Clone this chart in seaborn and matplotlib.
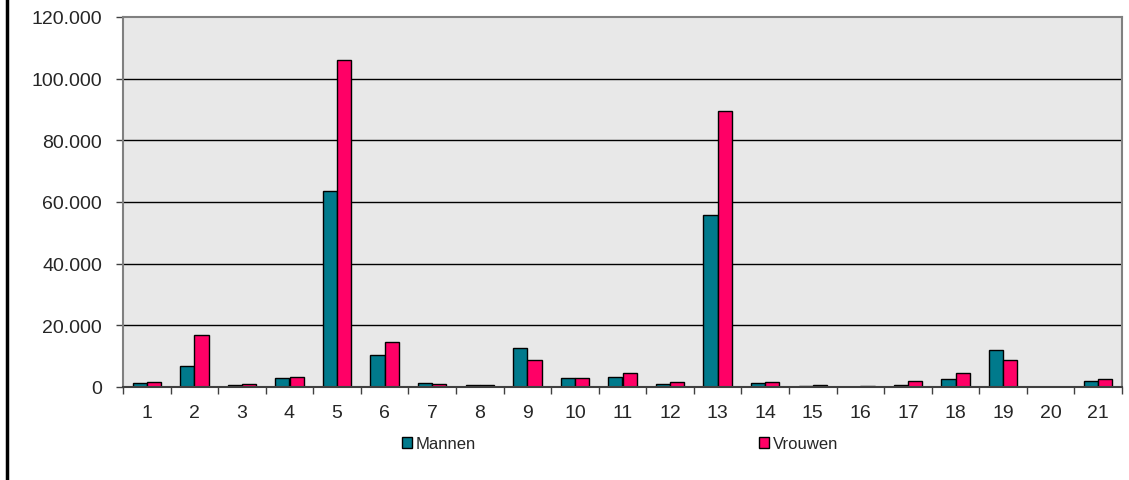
import matplotlib
matplotlib.use("Agg")
import matplotlib.pyplot as plt
import matplotlib.ticker as mticker
from matplotlib.lines import Line2D
from matplotlib.patches import Patch
import numpy as np
import pandas as pd
import seaborn as sns

groepen = [str(i) for i in range(1, 22)]
mannen = [1400, 6900, 500, 3000, 63500, 10500, 1300, 600, 12800, 3000, 3100,
          850, 55700, 1400, 200, 100, 750, 2500, 12100, 100, 2050]
vrouwen = [1600, 16800, 900, 3350, 106000, 14700, 1100, 700, 8700, 2900, 4400,
           1500, 89500, 1600, 600, 200, 1800, 4400, 8750, 100, 2500]
reeksen = ["Mannen", "Vrouwen"]
kleuren = ["#007A8C", "#FF0066"]

df = pd.DataFrame({
    "groep": groepen * 2,
    "aantal": mannen + vrouwen,
    "geslacht": [reeksen[0]] * len(groepen) + [reeksen[1]] * len(groepen),
})

sns.set_style("white")
plt.rcParams["font.family"] = ["Liberation Sans", "DejaVu Sans"]

fig = plt.figure(figsize=(11.29, 4.81), dpi=100)
ax = fig.add_axes([123 / 1129, 1 - 388 / 481, 999 / 1129, 370 / 481])
ax.set_facecolor("#E8E8E8")

sns.barplot(data=df, x="groep", y="aantal", hue="geslacht", palette=kleuren,
            edgecolor="black", linewidth=1, width=0.6, saturation=1,
            legend=False, ax=ax)

ax.set_ylim(0, 120000)
ax.set_xlim(-0.5, len(groepen) - 0.5)
ax.yaxis.set_major_locator(mticker.MultipleLocator(20000))
ax.yaxis.set_major_formatter(
    mticker.FuncFormatter(lambda v, p: f"{int(v):,}".replace(",", ".")))
for y in np.arange(20000, 120000, 20000):
    ax.axhline(y, color="black", linewidth=1, zorder=0.5)

ax.set_xlabel("")
ax.set_ylabel("")
ax.set_xticks(np.arange(-0.5, len(groepen), 1), minor=True)
ax.tick_params(axis="x", which="major", length=0, pad=12, labelsize=14)
ax.tick_params(axis="x", which="minor", length=5, width=1, color="#404040",
               direction="out", bottom=True)
ax.tick_params(axis="y", length=5, width=1, color="#404040", pad=10,
               labelsize=14, left=True)

for side in ["left", "right", "top"]:
    ax.spines[side].set_color("#808080")
    ax.spines[side].set_linewidth(1.5)
ax.spines["bottom"].set_color("#404040")
ax.spines["bottom"].set_linewidth(1.5)

handles = [Patch(facecolor=c, edgecolor="black", linewidth=1) for c in kleuren]
fig.legend(handles, reeksen, loc="center", bbox_to_anchor=(620 / 1129, 1 - 445 / 481),
           ncol=2, frameon=False, fontsize=12, handlelength=0.6, handleheight=0.6,
           handletextpad=0.2, columnspacing=17)

fig.add_artist(Line2D([7 / 1129, 7 / 1129], [0, 1], color="black", linewidth=2.5,
                      transform=fig.transFigure))

fig.savefig("out.png", dpi=100)
